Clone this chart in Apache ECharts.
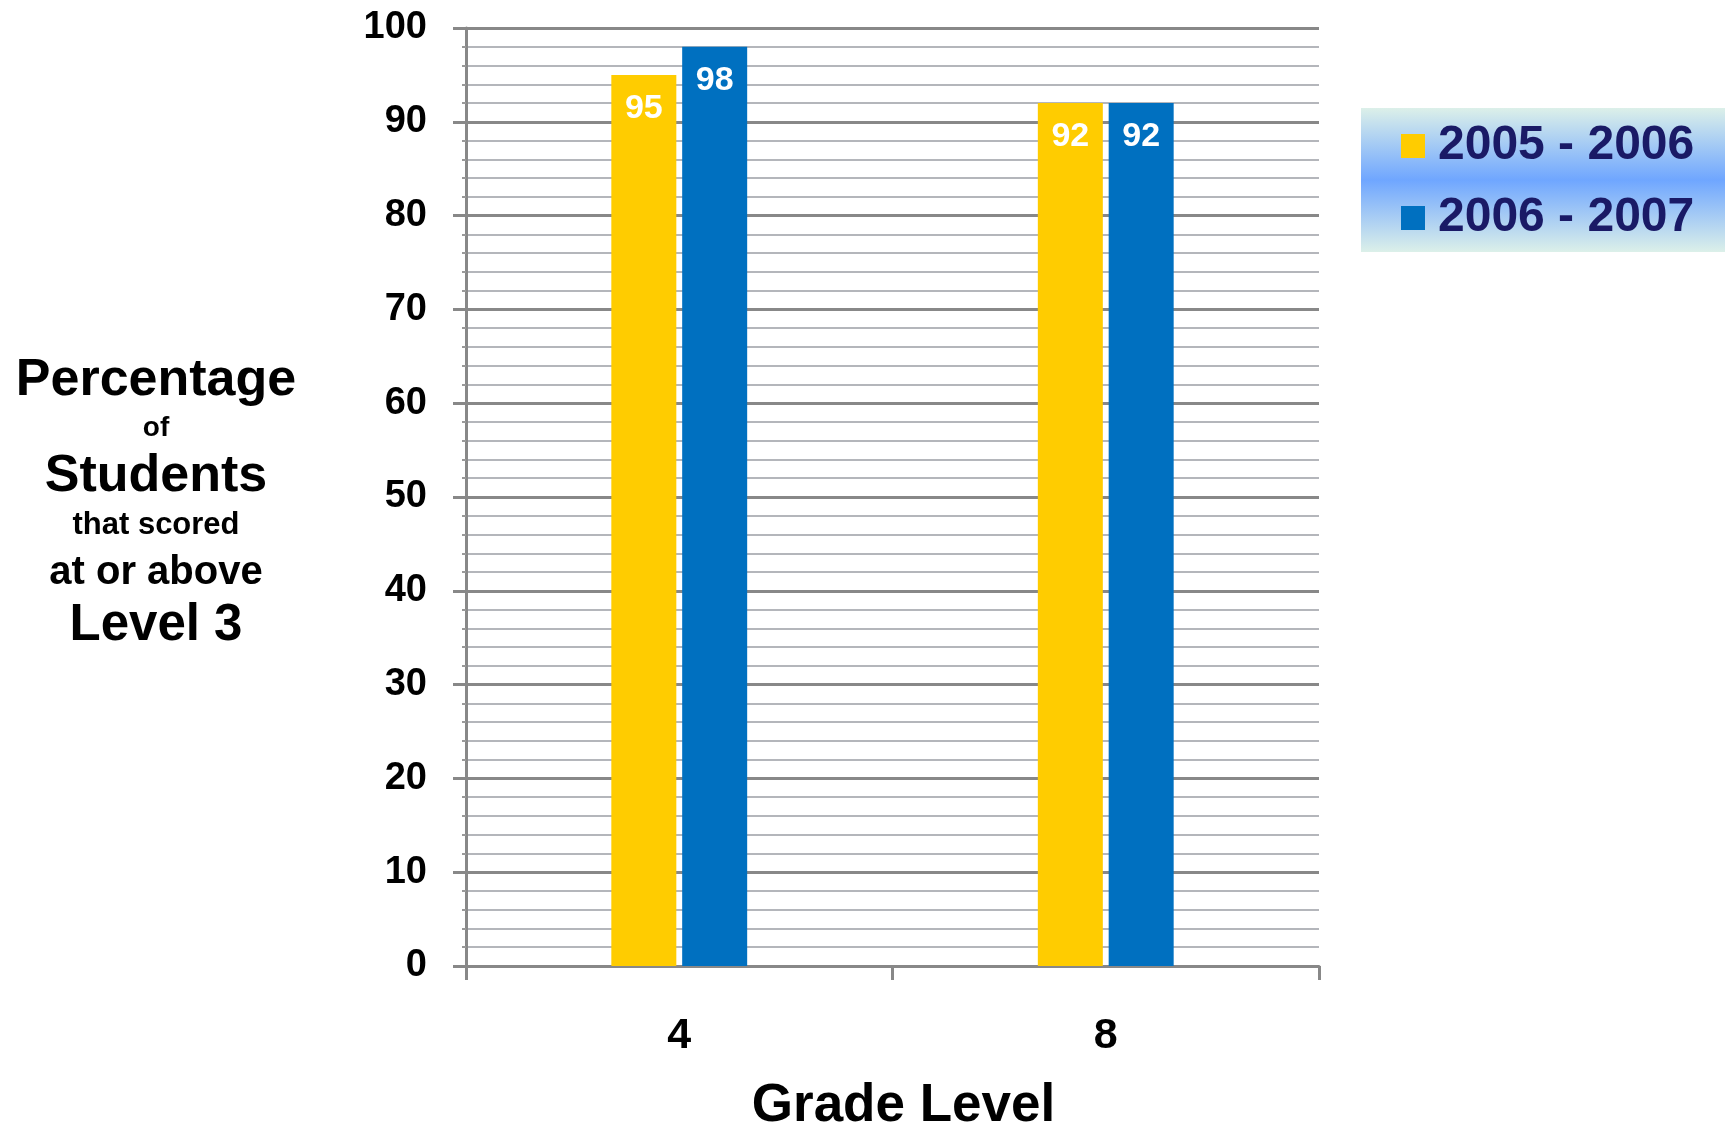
<!DOCTYPE html>
<html>
<head>
<meta charset="utf-8">
<script src="https://cdn.jsdelivr.net/npm/echarts@6/dist/echarts.min.js"></script>
<style>
html,body{margin:0;padding:0;background:#fff;}
#chart{width:1725px;height:1130px;}
</style>
</head>
<body>
<div id="chart"></div>
<script>
var categories = ['4', '8'];
var seriesNames = ['2005 - 2006', '2006 - 2007'];
var values2005 = [95, 92];
var values2006 = [98, 92];
var yTicks = [0, 10, 20, 30, 40, 50, 60, 70, 80, 90, 100];
var yTitleLines = ['Percentage', 'of', 'Students', 'that scored', 'at or above', 'Level 3'];
var xTitle = 'Grade Level';

var FONT = '"Liberation Sans", Arial, sans-serif';
var chart = echarts.init(document.getElementById('chart'));

var labelStyle = {
  show: true,
  position: 'insideTop',
  distance: 17,
  color: '#ffffff',
  fontFamily: FONT,
  fontWeight: 'bold',
  fontSize: 34
};

var rich = {
  big: {fontFamily: FONT, fontWeight: 'bold', fontSize: 52, lineHeight: 51, color: '#000'},
  of: {fontFamily: FONT, fontWeight: 'bold', fontSize: 28, lineHeight: 45, color: '#000'},
  small: {fontFamily: FONT, fontWeight: 'bold', fontSize: 31, lineHeight: 47, color: '#000'},
  mid: {fontFamily: FONT, fontWeight: 'bold', fontSize: 40, lineHeight: 47, color: '#000'},
  lvl: {fontFamily: FONT, fontWeight: 'bold', fontSize: 51, lineHeight: 60, color: '#000'}
};
var styles = ['big', 'of', 'big', 'small', 'mid', 'lvl'];
var titleText = yTitleLines.map(function (t, i) { return '{' + styles[i] + '|' + t + '}'; }).join('\n');

chart.setOption({
  animation: false,
  backgroundColor: '#ffffff',
  grid: {left: 466, right: 406, top: 28, bottom: 164, containLabel: false, outerBoundsMode: 'none'},
  graphic: [
    {
      type: 'rect',
      z: 0,
      shape: {x: 1361, y: 108, width: 364, height: 144},
      style: {
        fill: new echarts.graphic.LinearGradient(0, 0, 0, 1, [
          {offset: 0, color: '#dcf0e9'},
          {offset: 0.5, color: '#6fa6ff'},
          {offset: 1, color: '#dcf0e9'}
        ])
      }
    },
    {
      type: 'text',
      x: 156,
      y: 355,
      style: {
        text: titleText,
        rich: rich,
        align: 'center',
        verticalAlign: 'top',
        x: 0,
        y: 0
      }
    }
  ],
  legend: {
    z: 5,
    orient: 'vertical',
    left: 1401,
    top: 122,
    padding: 0,
    itemWidth: 24,
    itemHeight: 24,
    itemGap: 24,
    icon: 'rect',
    data: seriesNames,
    textStyle: {
      fontFamily: FONT,
      fontWeight: 'bold',
      fontSize: 48,
      lineHeight: 48,
      color: '#1a1a66',
      padding: [0, 0, 0, 8]
    }
  },
  xAxis: {
    type: 'category',
    data: categories,
    name: xTitle,
    nameLocation: 'middle',
    nameGap: 114,
    nameTextStyle: {
      fontFamily: FONT,
      fontWeight: 'bold',
      fontSize: 53,
      color: '#000',
      padding: [0, 0, 0, 22]
    },
    axisLine: {show: true, lineStyle: {color: '#888888', width: 3}},
    axisTick: {show: true, alignWithLabel: false, length: 14, lineStyle: {color: '#888888', width: 3}},
    axisLabel: {
      margin: 49,
      fontFamily: FONT,
      fontWeight: 'bold',
      fontSize: 43,
      lineHeight: 43,
      color: '#000'
    },
    splitLine: {show: false}
  },
  yAxis: {
    type: 'value',
    min: yTicks[0],
    max: yTicks[yTicks.length - 1],
    interval: yTicks[1] - yTicks[0],
    axisLine: {show: true, lineStyle: {color: '#888888', width: 3}},
    axisTick: {show: true, length: 13, lineStyle: {color: '#888888', width: 3}},
    minorTick: {show: true, splitNumber: 5, length: 4, lineStyle: {color: '#999999', width: 2}},
    axisLabel: {
      margin: 39,
      fontFamily: FONT,
      fontWeight: 'bold',
      fontSize: 38,
      color: '#000'
    },
    splitLine: {show: true, lineStyle: {color: '#888888', width: 3}},
    minorSplitLine: {show: true, lineStyle: {color: '#b4b6bb', width: 2}}
  },
  series: [
    {
      name: seriesNames[0],
      type: 'bar',
      data: values2005,
      barWidth: 65,
      barGap: '9%',
      itemStyle: {color: '#ffcc00'},
      label: labelStyle,
      z: 3
    },
    {
      name: seriesNames[1],
      type: 'bar',
      data: values2006,
      barWidth: 65,
      barGap: '9%',
      itemStyle: {color: '#0070c0'},
      label: labelStyle,
      z: 3
    }
  ]
});
</script>
</body>
</html>
